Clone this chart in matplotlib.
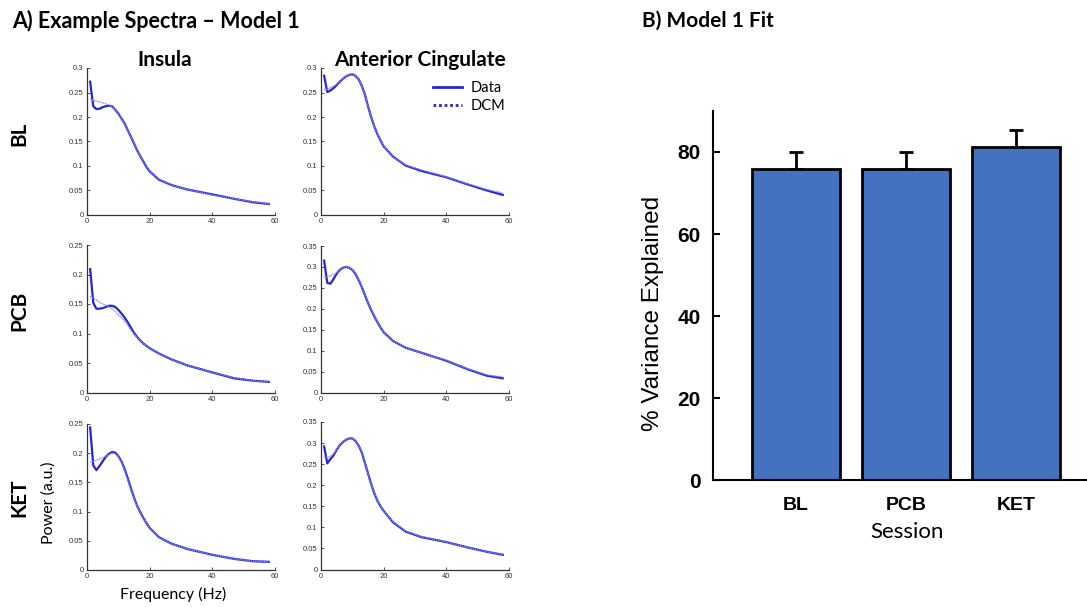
import numpy as np
import matplotlib.pyplot as plt
from matplotlib.ticker import FuncFormatter

W, H = 1087, 607

# frequency grid (Hz) used for all spectra
freq = [1, 2, 3, 4, 5, 6, 7, 8, 9, 10, 11, 12, 13, 14, 15, 16, 17, 18, 19, 20,
        23, 27, 32, 40, 47, 53, 58]

# Insula spectra
ins_bl_data = [0.272, 0.222, 0.216, 0.217, 0.220, 0.222, 0.223, 0.222, 0.215, 0.207,
               0.197, 0.187, 0.173, 0.160, 0.146, 0.132, 0.120, 0.109, 0.098, 0.089,
               0.072, 0.061, 0.052, 0.042, 0.033, 0.026, 0.0225]
ins_bl_dcm = [0.237, 0.234, 0.232, 0.231, 0.229, 0.227, 0.224, 0.221, 0.215, 0.206,
              0.197, 0.186, 0.173, 0.160, 0.146, 0.133, 0.120, 0.110, 0.099, 0.090,
              0.073, 0.061, 0.052, 0.041, 0.033, 0.027, 0.023]
ins_pcb_data = [0.209, 0.152, 0.142, 0.142, 0.143, 0.145, 0.147, 0.147, 0.145, 0.140,
                0.134, 0.127, 0.119, 0.110, 0.101, 0.094, 0.088, 0.083, 0.079, 0.075,
                0.066, 0.056, 0.046, 0.034, 0.024, 0.020, 0.018]
ins_pcb_dcm = [0.163, 0.160, 0.157, 0.153, 0.150, 0.148, 0.145, 0.142, 0.137, 0.132,
               0.127, 0.121, 0.114, 0.106, 0.099, 0.093, 0.088, 0.083, 0.079, 0.075,
               0.066, 0.056, 0.046, 0.034, 0.025, 0.020, 0.018]
ins_ket_data = [0.244, 0.179, 0.171, 0.178, 0.186, 0.194, 0.199, 0.202, 0.201, 0.195,
                0.186, 0.173, 0.157, 0.140, 0.124, 0.110, 0.099, 0.089, 0.080, 0.072,
                0.056, 0.045, 0.036, 0.026, 0.019, 0.015, 0.014]
ins_ket_dcm = [0.185, 0.186, 0.188, 0.190, 0.192, 0.195, 0.198, 0.200, 0.199, 0.194,
               0.185, 0.171, 0.155, 0.138, 0.123, 0.110, 0.099, 0.089, 0.080, 0.072,
               0.056, 0.045, 0.036, 0.026, 0.019, 0.015, 0.014]

# Anterior cingulate spectra
acc_bl_data = [0.284, 0.251, 0.254, 0.259, 0.265, 0.272, 0.278, 0.283, 0.286, 0.287,
               0.284, 0.277, 0.264, 0.246, 0.222, 0.200, 0.181, 0.165, 0.152, 0.140,
               0.119, 0.101, 0.090, 0.077, 0.062, 0.050, 0.041]
acc_bl_dcm = [0.256, 0.256, 0.260, 0.263, 0.267, 0.273, 0.278, 0.284, 0.286, 0.286,
              0.284, 0.277, 0.264, 0.246, 0.222, 0.201, 0.181, 0.166, 0.152, 0.140,
              0.118, 0.102, 0.092, 0.078, 0.063, 0.052, 0.045]
acc_pcb_data = [0.315, 0.262, 0.260, 0.271, 0.284, 0.293, 0.298, 0.300, 0.298, 0.293,
                0.283, 0.269, 0.252, 0.233, 0.214, 0.197, 0.182, 0.168, 0.155, 0.144,
                0.123, 0.107, 0.095, 0.076, 0.055, 0.040, 0.034]
acc_pcb_dcm = [0.276, 0.277, 0.279, 0.282, 0.286, 0.293, 0.298, 0.300, 0.298, 0.293,
               0.283, 0.269, 0.252, 0.233, 0.214, 0.197, 0.182, 0.168, 0.155, 0.144,
               0.123, 0.107, 0.095, 0.077, 0.056, 0.042, 0.037]
acc_ket_data = [0.292, 0.252, 0.262, 0.271, 0.284, 0.295, 0.302, 0.308, 0.311, 0.311,
                0.305, 0.294, 0.278, 0.253, 0.228, 0.203, 0.181, 0.163, 0.150, 0.139,
                0.112, 0.090, 0.077, 0.065, 0.052, 0.042, 0.035]
acc_ket_dcm = [0.268, 0.266, 0.268, 0.274, 0.285, 0.295, 0.302, 0.308, 0.311, 0.311,
               0.305, 0.294, 0.278, 0.253, 0.228, 0.203, 0.181, 0.163, 0.150, 0.139,
               0.113, 0.091, 0.078, 0.065, 0.052, 0.042, 0.036]

# model fit bars
sessions = ['BL', 'PCB', 'KET']
var_explained = [75.8, 75.9, 81.1]
var_err = [4.3, 4.2, 4.3]

data_col = '#2626d6'
dcm_col = '#8a8af0'
axcol = '#333333'
calibri = ['Lato', 'DejaVu Sans']
arial = ['Liberation Sans', 'DejaVu Sans']

fig = plt.figure(figsize=(W / 100, H / 100), dpi=100)


def px_axes(x0, y0, x1, y1):
    # axes from pixel box (top-left origin)
    return fig.add_axes([x0 / W, 1 - y1 / H, (x1 - x0) / W, (y1 - y0) / H])


def ftext(x, y, s, **kw):
    fig.text(x / W, 1 - y / H, s, **kw)


fmt = FuncFormatter(lambda v, _: '%g' % round(v, 2))

panels = [
    ((87, 68, 275, 215), ins_bl_data, ins_bl_dcm, 0.3),
    ((321, 68, 509, 215), acc_bl_data, acc_bl_dcm, 0.3),
    ((87, 245, 275, 392.5), ins_pcb_data, ins_pcb_dcm, 0.25),
    ((321, 246, 509, 392.5), acc_pcb_data, acc_pcb_dcm, 0.35),
    ((87, 424, 275, 570), ins_ket_data, ins_ket_dcm, 0.25),
    ((321, 422, 509, 569.5), acc_ket_data, acc_ket_dcm, 0.35),
]

spec_axes = []
for box, d, m, ymax in panels:
    ax = px_axes(*box)
    ax.plot(freq, d, color=data_col, lw=1.6, label='Data', zorder=3,
            solid_joinstyle='round')
    ax.plot(freq, m, color=dcm_col, lw=1.0, ls=(0, (1, 0.6)), label='DCM', zorder=4)
    ax.set_xlim(0, 60)
    ax.set_ylim(0, ymax)
    ax.set_xticks([0, 20, 40, 60])
    ax.set_yticks(np.arange(0, ymax + 1e-9, 0.05))
    ax.yaxis.set_major_formatter(fmt)
    for s in ['top', 'right']:
        ax.spines[s].set_visible(False)
    for s in ['left', 'bottom']:
        ax.spines[s].set_color(axcol)
        ax.spines[s].set_linewidth(0.9)
    ax.tick_params(direction='in', length=2, width=0.6, colors=axcol,
                   labelsize=5.5, pad=2.5)
    for lab in ax.get_xticklabels() + ax.get_yticklabels():
        lab.set_family(arial)
    spec_axes.append(ax)

# legend in the ACC baseline panel
ax_leg = spec_axes[1]
leg_d, = ax_leg.plot([], [], color=data_col, lw=2)
leg_m, = ax_leg.plot([], [], color=data_col, lw=2, ls=(0, (1, 1)))
ax_leg.legend([leg_d, leg_m], ['Data', 'DCM'], loc='upper left',
              bbox_to_anchor=(433 / W, 1 - 81 / H), bbox_transform=fig.transFigure,
              frameon=False, handlelength=2.0, handletextpad=0.6,
              borderpad=0, borderaxespad=0, labelspacing=0.25,
              prop={'family': calibri, 'size': 10.5})

# panel A labels
ftext(12, 28, 'A) Example Spectra \u2013 Model 1', family=calibri, weight='bold',
      fontsize=15.5, va='baseline', ha='left')
ftext(165, 66, 'Insula', family=calibri, weight='bold', fontsize=15,
      va='baseline', ha='center')
ftext(420, 66, 'Anterior Cingulate', family=calibri, weight='bold', fontsize=15,
      va='baseline', ha='center')
for lab, yc in zip(sessions, [134, 311, 498]):
    ftext(19, yc, lab, family=calibri, weight='bold', fontsize=15,
          rotation=90, va='center', ha='center')
ftext(49, 503, 'Power (a.u.)', family=calibri, fontsize=11.5, rotation=90,
      va='center', ha='center')
ftext(173, 594, 'Frequency (Hz)', family=calibri, fontsize=11.5,
      va='center', ha='center')

# panel B: bar chart
bx = px_axes(713, 111, 1087, 480)
pos = np.arange(1, len(sessions) + 1)
bx.bar(pos, var_explained, width=0.8, color='#4472c0', edgecolor='black',
       linewidth=2.0, zorder=2)
bx.errorbar(pos, var_explained, yerr=[np.zeros(len(var_err)), var_err], fmt='none',
            ecolor='black', elinewidth=2, capsize=5, capthick=2, zorder=3)
bx.set_xlim(0.245, 3.645)
bx.set_ylim(0, 90)
bx.set_yticks([0, 20, 40, 60, 80])
bx.set_xticks(pos)
bx.set_xticklabels(sessions)
for s in ['top', 'right']:
    bx.spines[s].set_visible(False)
for s in ['left', 'bottom']:
    bx.spines[s].set_linewidth(1.5)
bx.tick_params(axis='y', direction='in', length=5, width=1.5, labelsize=15, pad=9)
bx.tick_params(axis='x', direction='in', length=3, width=1.5, labelsize=14, pad=12)
for lab in bx.get_xticklabels() + bx.get_yticklabels():
    lab.set_family(arial)
    lab.set_weight('bold')
ftext(653, 313, '% Variance Explained', family=arial, fontsize=17.5, rotation=90,
      va='center', ha='center')
ftext(907, 532, 'Session', family=calibri, fontsize=16, va='center', ha='center')
ftext(642, 27, 'B) Model 1 Fit', family=calibri, weight='bold', fontsize=15,
      va='baseline', ha='left')

fig.savefig('out.png', dpi=100)
